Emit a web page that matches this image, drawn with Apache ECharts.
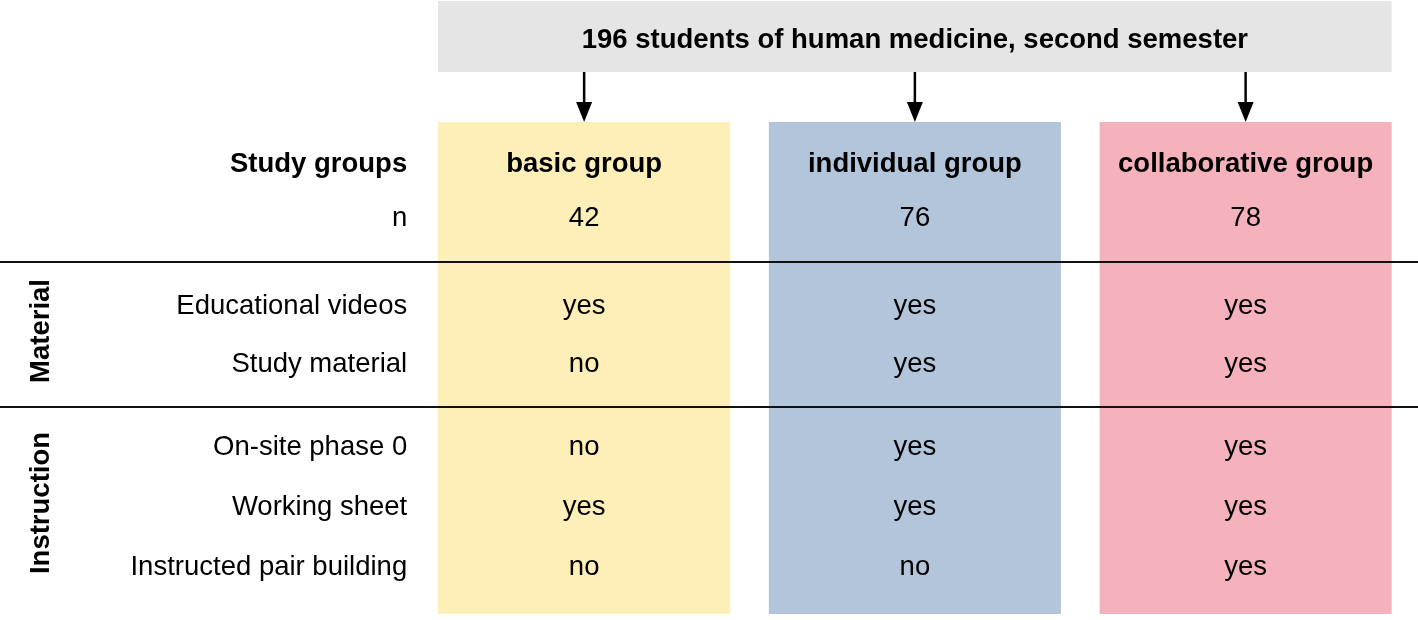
<!DOCTYPE html>
<html>
<head>
<meta charset="utf-8">
<script src="https://cdn.jsdelivr.net/npm/echarts@6/dist/echarts.min.js"></script>
<style>
  html, body { margin: 0; padding: 0; background: #fff; }
  #chart { width: 1418px; height: 620px; }
</style>
</head>
<body>
<div id="chart"></div>
<script>
// data
const title = "196 students of human medicine, second semester"
const columns = ["", "basic group", "individual group", "collaborative group"]
const groupN = [42, 76, 78]
const features = ["Educational videos", "Study material", "On-site phase 0", "Working sheet", "Instructed pair building"]
const basicValues = ["yes", "no", "no", "yes", "no"]
const individualValues = ["yes", "yes", "yes", "yes", "no"]
const collaborativeValues = ["yes", "yes", "yes", "yes", "yes"]
const sections = ["Material", "Instruction"]

// layout (y axis runs 0..620 top to bottom)
const FONT = "'Liberation Sans', Arial, Helvetica, sans-serif"
const FS = 27.5
const groupColors = ["#fdefb7", "#b3c5da", "#f5b1bc"]
const boxTop = 1, boxBottom = 72, titleY = 40
const colTop = 122, colBottom = 614
const headerY = 164, nY = 218
const featureY = [306, 364, 447, 507, 567]
const sectionY = [331, 503]
const separatorY = [262, 407]
const colRatio = 0.883

const groupValues = [basicValues, individualValues, collaborativeValues]

// cells: [column index, y, text, bold]
const cells = []
cells.push([0, headerY, "Study groups", true])
cells.push([0, nY, "n", false])
features.forEach((f, i) => cells.push([0, featureY[i], f, false]))
for (let g = 0; g < 3; g++) {
  cells.push([g + 1, headerY, columns[g + 1], true])
  cells.push([g + 1, nY, String(groupN[g]), false])
  groupValues[g].forEach((v, i) => cells.push([g + 1, featureY[i], v, false]))
}

const chart = echarts.init(document.getElementById("chart"))

const textStyle = (text, bold, align) => ({
  text,
  fill: "#000",
  fontFamily: FONT,
  fontSize: FS,
  fontWeight: bold ? "bold" : "normal",
  align: align || "center",
  verticalAlign: "middle"
})

chart.setOption({
  animation: false,
  grid: { left: 88, right: 7, top: 0, bottom: 0 },
  xAxis: { type: "category", data: columns, show: false },
  yAxis: { type: "value", min: 0, max: 620, inverse: true, show: false },
  series: [
    {
      // grey header box spanning the three groups
      type: "custom",
      silent: true,
      data: [[1, boxTop]],
      renderItem: (params, api) => {
        const band = api.size([1, 0])[0]
        const w = band * colRatio
        const left = api.coord([1, boxTop])[0] - w / 2
        const right = api.coord([3, boxTop])[0] + w / 2
        const top = api.coord([1, boxTop])[1]
        const bottom = api.coord([1, boxBottom])[1]
        return {
          type: "group",
          children: [
            { type: "rect", shape: { x: left, y: top, width: right - left, height: bottom - top }, style: { fill: "#e5e5e5" } },
            { type: "text", x: (left + right) / 2, y: api.coord([1, titleY])[1], style: textStyle(title, true) }
          ]
        }
      }
    },
    {
      // coloured group columns
      type: "custom",
      silent: true,
      data: [[1, colTop], [2, colTop], [3, colTop]],
      renderItem: (params, api) => {
        const band = api.size([1, 0])[0]
        const w = band * colRatio
        const p = api.coord([api.value(0), colTop])
        const b = api.coord([api.value(0), colBottom])
        return {
          type: "rect",
          shape: { x: p[0] - w / 2, y: p[1], width: w, height: b[1] - p[1] },
          style: { fill: groupColors[params.dataIndex] }
        }
      }
    },
    {
      // arrows from header box into each group
      type: "custom",
      silent: true,
      data: [[1, boxBottom], [2, boxBottom], [3, boxBottom]],
      renderItem: (params, api) => {
        const s = api.coord([api.value(0), boxBottom])
        const e = api.coord([api.value(0), colTop])
        const x = s[0]
        return {
          type: "group",
          children: [
            { type: "line", shape: { x1: x, y1: s[1], x2: x, y2: e[1] - 12 }, style: { stroke: "#000", lineWidth: 2.5 } },
            { type: "polygon", shape: { points: [[x - 8, e[1] - 20], [x + 8, e[1] - 20], [x, e[1]]] }, style: { fill: "#000" } }
          ]
        }
      }
    },
    {
      // horizontal separators across the full width
      type: "custom",
      silent: true,
      data: separatorY.map(y => [0, y]),
      renderItem: (params, api) => {
        const y = api.coord([0, api.value(1)])[1]
        return {
          type: "line",
          shape: { x1: 0, y1: y, x2: api.getWidth(), y2: y },
          style: { stroke: "#111", lineWidth: 2 }
        }
      }
    },
    {
      // table texts
      type: "custom",
      silent: true,
      data: cells.map(c => [c[0], c[1]]),
      renderItem: (params, api) => {
        const c = cells[params.dataIndex]
        const band = api.size([1, 0])[0]
        const p = api.coord([c[0], c[1]])
        if (c[0] === 0) {
          return { type: "text", x: p[0] + band * 0.465, y: p[1], style: textStyle(c[2], c[3], "right") }
        }
        return { type: "text", x: p[0], y: p[1], style: textStyle(c[2], c[3]) }
      }
    },
    {
      // rotated section labels
      type: "custom",
      silent: true,
      data: sections.map((s, i) => [0, sectionY[i]]),
      renderItem: (params, api) => {
        const band = api.size([1, 0])[0]
        const p = api.coord([0, api.value(1)])
        return {
          type: "text",
          x: p[0] - band * 0.64,
          y: p[1],
          rotation: Math.PI / 2,
          style: textStyle(sections[params.dataIndex], true)
        }
      }
    }
  ]
})

window.addEventListener("resize", () => chart.resize())
</script>
</body>
</html>
